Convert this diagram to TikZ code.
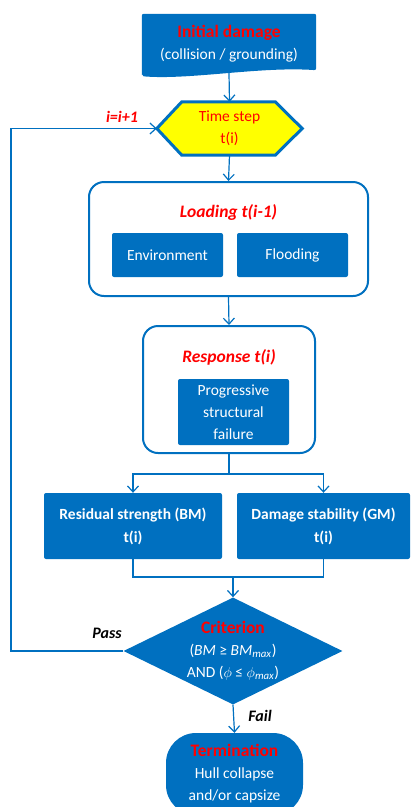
\documentclass[tikz,border=0pt]{standalone}
\usepackage{fontspec}
\setmainfont{Carlito}
\usetikzlibrary{arrows.meta,shapes.geometric,backgrounds}
\definecolor{boxblue}{HTML}{0070C0}
\definecolor{hexyellow}{HTML}{FFFF00}
\definecolor{titlered}{HTML}{FF0000}
\newcommand{\redtitle}[1]{{\color{titlered}\fontsize{17.5}{22}\selectfont\bfseries #1}}
\tikzset{
    basefont/.style={font=\fontsize{15.5}{22}\selectfont},
    bluebox/.style={fill=boxblue,text=white,rounded corners=2pt,inner sep=0pt,align=center,basefont},
    groupframe/.style={draw=boxblue,line width=2pt,rounded corners=15pt,fill=white,inner sep=0pt},
    hextext/.style={inner sep=0pt,align=center,text=titlered,basefont},
    hexframe/.style={draw=boxblue,fill=hexyellow,line width=3pt,line join=miter},
    grouptitle/.style={text=titlered,inner sep=0pt,font=\fontsize{17.5}{22}\selectfont\bfseries\itshape},
    critdiamond/.style={diamond,aspect=2.05,fill=boxblue,text=white,align=center,inner sep=0pt,
        minimum width=219pt,minimum height=107pt,basefont},
    endbox/.style={bluebox,rounded corners=30pt},
    branchlabel/.style={inner sep=0pt,font=\fontsize{16}{20}\selectfont\bfseries\itshape},
    link/.style={draw=boxblue,line width=1.2pt},
    flow/.style={link,-{Straight Barb[length=6pt,width=11pt]}}
}

\begin{document}
\begin{tikzpicture}[x=1pt,y=-1pt]
\useasboundingbox (0,0) rectangle (412,807);
\node[inner sep=0pt,align=center,text=white,basefont,minimum width=174pt,minimum height=59pt] (init) at (229,43.5)
    {\redtitle{Initial damage}\\(collision / grounding)};
\node[hextext,minimum width=145pt,minimum height=53pt] (tstep) at (229.5,128.5) {Time step\\t(i)};
\begin{scope}[on background layer]
\fill[boxblue,rounded corners=2pt] ([yshift=-3pt]init.south west) -- (init.north west) -- (init.north east)
    -- ([yshift=3pt]init.south east) .. controls ([xshift=-56pt,yshift=7pt]init.south east)
    and ([xshift=48pt,yshift=-7pt]init.south west) .. ([yshift=-3pt]init.south west) -- cycle;
\filldraw[hexframe] (tstep.west) -- ([xshift=25pt]tstep.north west) -- ([xshift=-27pt]tstep.north east)
    -- (tstep.east) -- ([xshift=-27pt]tstep.south east) -- ([xshift=25pt]tstep.south west) -- cycle;
\end{scope}

\node[groupframe,minimum width=279pt,minimum height=114pt] (loading) at (228.5,239) {};
\node[grouptitle] (loadtitle) at (228.5,212) {Loading t(i-1)};
\node[bluebox,minimum width=111pt,minimum height=44pt] (env) at (167.5,255) {Environment};
\node[bluebox,minimum width=111pt,minimum height=44pt] (flood) at (292.5,255) {Flooding};

\node[groupframe,minimum width=172pt,minimum height=127pt] (response) at (229,389.5) {};
\node[grouptitle] (resptitle) at (229,357) {Response t(i)};
\node[bluebox,minimum width=111pt,minimum height=66pt] (failure) at (233.5,412) {Progressive\\structural\\failure};

\node[bluebox,minimum width=178pt,minimum height=66pt,font=\fontsize{15.5}{23}\selectfont\bfseries] (residual) at (133,526)
    {Residual strength (BM)\\t(i)};
\node[bluebox,minimum width=173pt,minimum height=66pt,font=\fontsize{15.5}{23}\selectfont\bfseries] (stability) at (323.5,526)
    {Damage stability (GM)\\t(i)};

\node[critdiamond] (crit) at (233,651)
    {\redtitle{Criterion}\\(\textit{BM} ≥ \textit{BM}\textsubscript{\textit{max}})\\AND ($\phi$ ≤ $\phi$\textsubscript{\textit{max}})};
\node[endbox,minimum width=137pt,minimum height=82pt] (term) at (234.5,774)
    {\redtitle{Termination}\\Hull collapse\\and/or capsize};

\coordinate (split) at (229,474);
\coordinate (join) at (233,577);
\coordinate (loopcorner) at (11,651);

\draw[flow] (init.south) -- (tstep.north);
\draw[flow] (tstep.south) -- (loading.north);
\draw[flow] (loading.south) -- (response.north);
\draw[link] (response.south) -- (split);
\draw[flow] (split) -| (residual.north);
\draw[flow] (split) -| (stability.north);
\draw[link] (residual.south) |- (join) -| (stability.south);
\draw[flow] (join) -- (crit.north);
\draw[flow] (crit.south) -- (term.north);
\draw[flow] (crit.west) -- (loopcorner) |- (tstep.west);

\node[branchlabel] (pass) at (107,633) {Pass};
\node[branchlabel] (fail) at (260,716) {Fail};
\node[branchlabel,text=titlered] (incr) at (122,117) {i=i+1};
\end{tikzpicture}
\end{document}
